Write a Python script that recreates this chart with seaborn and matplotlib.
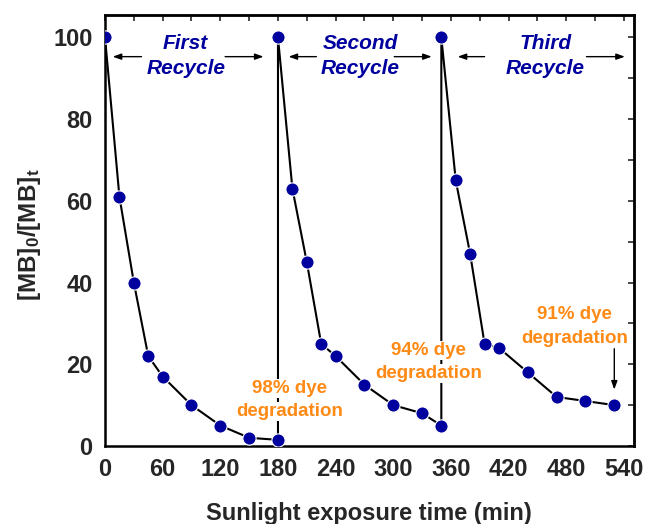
import matplotlib
matplotlib.use("Agg")
import matplotlib.pyplot as plt
import seaborn as sns
import pandas as pd
from matplotlib.ticker import MultipleLocator

# ---- data ----
time_min = [0, 15, 30, 45, 60, 90, 120, 150, 180,
            180, 195, 210, 225, 240, 270, 300, 330, 350,
            350, 365, 380, 395, 410, 440, 470, 500, 530]
ratio = [100, 61, 40, 22, 17, 10, 5, 2, 1.5,
         100, 63, 45, 25, 22, 15, 10, 8, 5,
         100, 65, 47, 25, 24, 18, 12, 11, 10]
x_ticks = [0, 60, 120, 180, 240, 300, 360, 420, 480, 540]
y_ticks = [0, 20, 40, 60, 80, 100]
cycle_labels = ["First\nRecycle", "Second\nRecycle", "Third\nRecycle"]
cycle_centers = [84, 266, 458]
degradation_labels = ["98% dye", "94% dye", "91% dye"]

df = pd.DataFrame({"time": time_min, "ratio": ratio})

sns.set_style("white")
plt.rcParams["font.family"] = ["Liberation Sans", "DejaVu Sans"]
plt.rcParams["font.weight"] = "bold"
plt.rcParams["mathtext.fontset"] = "custom"
plt.rcParams["mathtext.rm"] = "Liberation Sans:bold"
plt.rcParams["mathtext.bf"] = "Liberation Sans:bold"
plt.rcParams["mathtext.it"] = "Liberation Sans:bold:italic"

fig = plt.figure(figsize=(6.45, 5.24), dpi=100)
ax = fig.add_axes([0.1628, 0.1489, 0.8194, 0.8225])

BLUE = "#00009F"
ORANGE = "#FF8A15"

sns.lineplot(data=df, x="time", y="ratio", sort=False, estimator=None,
             color="black", linewidth=1.5, marker="o", markersize=9.5,
             markerfacecolor=BLUE, markeredgecolor="white",
             markeredgewidth=0.8, ax=ax, zorder=3)

ax.set_xlim(0, 550)
ax.set_ylim(0, 105.5)
ax.set_xticks(x_ticks)
ax.set_yticks(y_ticks)
ax.xaxis.set_minor_locator(MultipleLocator(30))
ax.yaxis.set_minor_locator(MultipleLocator(10))
ax.tick_params(which="major", direction="out", length=6, width=1.5,
               labelsize=17, pad=3, color="black")
ax.tick_params(which="minor", direction="out", length=3.5, width=1.5,
               color="black")
for lab in ax.get_xticklabels() + ax.get_yticklabels():
    lab.set_fontweight("bold")

for sp in ax.spines.values():
    sp.set_linewidth(1.8)
    sp.set_color("black")

# inward ticks on top and right
secx = ax.secondary_xaxis("top")
secx.set_xticks(x_ticks)
secx.xaxis.set_minor_locator(MultipleLocator(30))
secx.tick_params(which="both", direction="in", length=4, width=1.2,
                 labeltop=False)
secx.spines["top"].set_linewidth(1.8)
secy = ax.secondary_yaxis("right")
secy.set_yticks(y_ticks)
secy.yaxis.set_minor_locator(MultipleLocator(10))
secy.tick_params(which="both", direction="in", length=4, width=1.2,
                 labelright=False)
secy.spines["right"].set_linewidth(1.8)

ax.set_xlabel("Sunlight exposure time (min)", fontsize=17, fontweight="bold")
ax.set_ylabel(r"[MB]$_\mathregular{0}$/[MB]$_\mathregular{t}$",
              fontsize=17.5, fontweight="bold")
ax.xaxis.set_label_coords(0.5, -0.13)
ax.yaxis.set_label_coords(-0.118, 0.49)

# cycle labels with double arrows
arrow_kw = dict(arrowstyle="-|>,head_length=0.5,head_width=0.18",
                color="black", lw=1.0, shrinkA=0, shrinkB=0)
arrow_spans = [((38, 8), (125, 165)), ((220, 191), (301, 340)),
               ((395, 367), (501, 541))]
for lab, cx, (left, right) in zip(cycle_labels, cycle_centers, arrow_spans):
    ax.text(cx, 95.5, lab, ha="center", va="center", fontsize=15,
            fontweight="bold", fontstyle="italic", color=BLUE,
            linespacing=1.4)
    ax.annotate("", xy=(left[1], 95.3), xytext=(left[0], 95.3),
                arrowprops=arrow_kw)
    ax.annotate("", xy=(right[1], 95.3), xytext=(right[0], 95.3),
                arrowprops=arrow_kw)

# degradation annotations
deg_pos = [(192.5, 14.1, 8.4), (337, 23.4, 17.7), (488.5, 32.2, 26.2)]
for lab, (xc, y1, y2) in zip(degradation_labels, deg_pos):
    ax.text(xc, y1, lab, ha="center", va="center", fontsize=13.5,
            fontweight="bold", color=ORANGE, zorder=4,
            bbox=dict(facecolor="white", edgecolor="none", pad=0.5))
    ax.text(xc, y2, "degradation", ha="center", va="center", fontsize=13.5,
            fontweight="bold", color=ORANGE, zorder=4,
            bbox=dict(facecolor="white", edgecolor="none", pad=0.5))

ax.annotate("", xy=(530, 13.8), xytext=(530, 23.8),
            arrowprops=dict(arrowstyle="-|>,head_length=0.5,head_width=0.18",
                            color="black", lw=1.0, shrinkA=0, shrinkB=0))

fig.savefig("out.png", dpi=100)
